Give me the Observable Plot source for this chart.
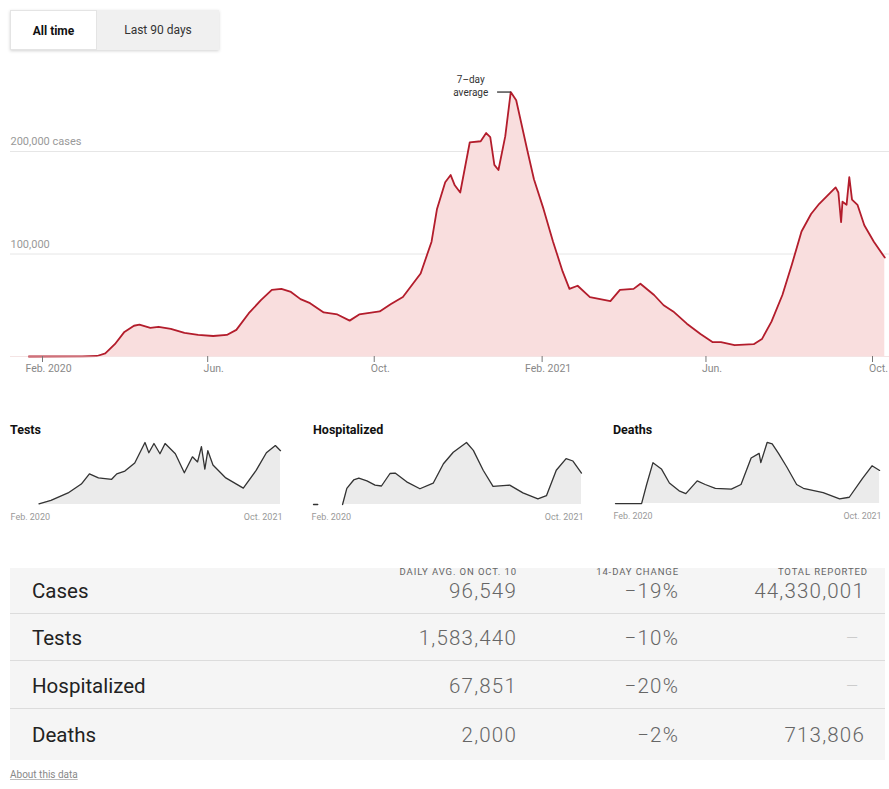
<!DOCTYPE html>
<html><head><meta charset="utf-8">
<script src="https://cdn.jsdelivr.net/npm/d3@7"></script>
<script src="https://cdn.jsdelivr.net/npm/@observablehq/plot@0.6"></script>
<style>
body{margin:0;width:889px;height:789px;position:relative;font-family:Roboto,"Noto Sans",sans-serif;background:#fff;overflow:hidden;color:#222}
.abs{position:absolute}
#buttons{left:10px;top:10px;height:40px;display:flex;box-shadow:0 1px 3px rgba(0,0,0,.18)}
#buttons div{height:40px;line-height:40px;text-align:center;font-size:12px}
#b1{width:87px;background:#fff;border:1px solid #e4e4e4;box-sizing:border-box;font-weight:700;color:#111}
#b2{width:122px;background:#f0f0f0;color:#333}
.ptitle{font-size:12.5px;font-weight:700;color:#111;top:422px}
#tablebg{left:10px;top:568px;width:875px;height:192px;background:#f5f5f5}
.hdr{font-size:9.5px;line-height:11px;letter-spacing:0.9px;color:#666;top:566px;text-transform:uppercase;white-space:nowrap}
.lbl{font-size:20.5px;line-height:22px;color:#222;white-space:nowrap}
.num{font-size:20.5px;line-height:22px;font-weight:300;color:#666;letter-spacing:1.2px;white-space:nowrap;text-align:right}
.div{left:10px;width:875px;height:1px;background:#dcdcdc}
#about{left:10px;top:769px;font-size:10px;color:#888;text-decoration:underline;text-decoration-color:#bbb}
</style></head><body>
<div id="buttons" class="abs"><div id="b1">All time</div><div id="b2">Last 90 days</div></div>
<div id="main" class="abs" style="left:0;top:60px"></div>
<div id="tablebg" class="abs"></div>
<div id="panels"></div>
<div id="table"></div>
<div id="about" class="abs">About this data</div>
<script>
// ---------- data ----------
const caseDates = ["2020-01-22","2020-03-01","2020-03-12","2020-03-18","2020-03-25","2020-04-01","2020-04-08","2020-04-12","2020-04-20","2020-04-26","2020-05-05","2020-05-15","2020-05-25","2020-06-05","2020-06-15","2020-06-22","2020-07-01","2020-07-10","2020-07-18","2020-07-25","2020-08-01","2020-08-08","2020-08-15","2020-08-25","2020-09-04","2020-09-13","2020-09-20","2020-10-05","2020-10-13","2020-10-22","2020-11-04","2020-11-12","2020-11-16","2020-11-22","2020-11-26","2020-11-29","2020-12-03","2020-12-10","2020-12-18","2020-12-22","2020-12-25","2020-12-28","2020-12-31","2021-01-05","2021-01-09","2021-01-13","2021-01-21","2021-01-26","2021-02-02","2021-02-09","2021-02-16","2021-02-21","2021-02-27","2021-03-08","2021-03-23","2021-03-30","2021-04-09","2021-04-14","2021-04-24","2021-05-01","2021-05-08","2021-05-18","2021-05-28","2021-06-06","2021-06-12","2021-06-22","2021-07-06","2021-07-12","2021-07-19","2021-07-27","2021-08-03","2021-08-10","2021-08-17","2021-08-23","2021-08-29","2021-09-04","2021-09-06","2021-09-08","2021-09-09","2021-09-12","2021-09-14","2021-09-16","2021-09-20","2021-09-25","2021-10-02","2021-10-10"];
const caseValues = [0,0.03,0.5,3,12,24,30,31,28,29,27,23,21,20,21,26,42,55,65,66,63,56,52,43,41,35,41,44,51,58,81,112,144,170,177,167,160,209,210,218,214,187,182,215,258,250,202,173,144,112,83,66,69,58,54,65,66,71,60,50,44,32,22,14,14,11,12,17,34,60,90,122,139,149,157,165,160,131,151,148,175,153,148,128,112,96.5]; // thousands

const axisTickDates = ["2020-02-01","2020-06-01","2020-10-01","2021-02-01","2021-06-01","2021-10-01"];
const axisTickLabels = ["Feb. 2020","Jun.","Oct.","Feb. 2021","Jun.","Oct."];
const gridValues = [100000, 200000];
const gridLabels = ["100,000", "200,000 cases"];
const annotationText = "7–day\naverage";

const testDates = ["2020-03-24","2020-04-21","2020-05-31","2020-07-01","2020-07-20","2020-08-10","2020-09-10","2020-09-22","2020-10-11","2020-11-03","2020-11-27","2020-12-06","2020-12-18","2021-01-01","2021-01-13","2021-02-06","2021-02-27","2021-03-18","2021-03-30","2021-04-08","2021-04-16","2021-04-23","2021-05-05","2021-06-04","2021-07-15","2021-08-14","2021-09-07","2021-09-28","2021-10-10"];
const testValues = [0.02,0.12,0.34,0.6,0.9,0.78,0.74,0.9,0.98,1.22,1.82,1.52,1.79,1.49,1.79,1.49,0.93,1.4,1.25,1.7,1.04,1.58,1.16,0.78,0.48,1.0,1.52,1.73,1.58]; // millions

const hospDates = ["2020-01-22","2020-02-01","2020-02-02","2020-03-30","2020-04-09","2020-04-25","2020-05-07","2020-05-26","2020-06-14","2020-06-29","2020-07-19","2020-07-31","2020-08-27","2020-09-27","2020-10-28","2020-11-21","2020-12-14","2021-01-14","2021-01-30","2021-02-22","2021-03-17","2021-04-25","2021-05-26","2021-06-30","2021-07-20","2021-08-12","2021-09-04","2021-09-20","2021-10-10"];
const hospValues = [0,0,null,0,35,53,57,51,42,40,67,68,49,34,46,88,113,134,117,74,39,42,25,12,19,74,99,94,67.9]; // thousands

const deathDates = ["2020-01-22","2020-03-24","2020-04-05","2020-04-20","2020-05-10","2020-05-29","2020-06-21","2020-07-07","2020-08-03","2020-08-22","2020-09-15","2020-10-23","2020-11-15","2020-12-09","2020-12-28","2021-01-01","2021-01-16","2021-01-28","2021-02-12","2021-03-04","2021-03-27","2021-04-12","2021-05-29","2021-07-07","2021-07-30","2021-08-30","2021-09-22","2021-10-10"];
const deathValues = [0,0,1.15,2.47,2.09,1.24,0.77,0.6,1.37,1.15,0.92,0.87,1.15,2.75,3.03,2.47,3.69,3.6,3.03,2.19,1.15,0.92,0.66,0.28,0.38,1.5,2.28,2.0]; // thousands

const panelTitles = ["Tests","Hospitalized","Deaths"];
const panelTickLabels = ["Feb. 2020","Oct. 2021"];
const panelDomain = ["2020-01-22","2021-10-10"];

const tableHeaders = ["Daily avg. on Oct. 10","14-day change","Total reported"];
const rowNames = ["Cases","Tests","Hospitalized","Deaths"];
const dailyAvg = ["96,549","1,583,440","67,851","2,000"];
const change14 = ["−19%","−10%","−20%","−2%"];
const totals = ["44,330,001","–","–","713,806"];

// ---------- main chart ----------
const parse = d3.utcParse("%Y-%m-%d");
const FONT = "Roboto, 'Noto Sans', sans-serif";
const caseData = caseDates.map((d,i)=>({date: parse(d), value: caseValues[i]*1000}));
const peak = caseData.reduce((a,b)=> b.value > a.value ? b : a);
const tickDates = axisTickDates.map(parse);

const main = Plot.plot({
  width: 889, height: 320, marginLeft: 10, marginRight: 0, marginTop: 0, marginBottom: 24,
  style: {fontFamily: FONT, overflow: "visible", background: "transparent"},
  x: {type: "utc", domain: [tickDates[0], tickDates[tickDates.length-1]], range: [42, 872], label: null},
  y: {domain: [0, 200000], range: [296, 91], axis: null},
  marks: [
    Plot.ruleY(gridValues, {stroke: "#e6e6e6", strokeWidth: 1}),
    Plot.text(gridValues, {y: d => d, text: (d,i) => gridLabels[i], frameAnchor: "left", textAnchor: "start", dy: -10, fill: "#999", fontSize: 11}),
    Plot.areaY(caseData, {x: "date", y: "value", fill: "#f9dede"}),
    Plot.lineY(caseData, {x: "date", y: "value", stroke: "#b31d2c", strokeWidth: 1.8}),
    Plot.ruleY([0], {stroke: "#e8c8c8", strokeWidth: 0.5}),
    Plot.axisX(tickDates, {tickSize: 6, stroke: "#777", fill: "none", label: null}),
    Plot.axisX(tickDates, {tickSize: 0, tickPadding: 8, tickFormat: (d,i) => axisTickLabels[i], fill: "#888", fontSize: 10.5, dx: 6, label: null}),
    Plot.link([peak], {x1: d => d3.utcDay.offset(d.date, -10), x2: "date", y1: "value", y2: "value", stroke: "#333", strokeWidth: 1.3}),
    Plot.text([peak], {x: "date", y: "value", text: () => annotationText, dx: -40, dy: 4, lineAnchor: "bottom", lineHeight: 1.3, textAnchor: "middle", fontSize: 10, fill: "#333"})
  ]
});
document.getElementById("main").appendChild(main);

// ---------- small multiples ----------
const panelSeries = [
  testDates.map((d,i)=>({date: parse(d), value: testValues[i]})),
  hospDates.map((d,i)=>({date: parse(d), value: hospValues[i]})),
  deathDates.map((d,i)=>({date: parse(d), value: deathValues[i]}))
];
const panelLefts = [10, 311, 613];
const pDomain = panelDomain.map(parse);
panelSeries.forEach((data, k) => {
  const t = document.createElement("div");
  t.className = "abs ptitle";
  t.style.left = (panelLefts[k] + (k===1?2:0)) + "px";
  t.textContent = panelTitles[k];
  document.body.appendChild(t);
  const maxV = d3.max(data, d => d.value);
  const labels = [{date: pDomain[0], label: panelTickLabels[0], anchor: "start"}, {date: pDomain[1], label: panelTickLabels[1], anchor: "end"}];
  const p = Plot.plot({
    width: 280, height: 88, marginLeft: 0, marginRight: 10, marginTop: 4, marginBottom: 22,
    style: {fontFamily: FONT, overflow: "visible", background: "transparent"},
    x: {type: "utc", domain: pDomain, range: [2, 270], axis: null},
    y: {domain: [0, maxV], range: [66, 4], axis: null},
    marks: [
      Plot.areaY(data, {x: "date", y: "value", fill: "#ebebeb"}),
      Plot.lineY(data, {x: "date", y: "value", stroke: "#333", strokeWidth: 1.3}),
      Plot.text(labels.filter(d => d.anchor === "start"), {x: "date", y: () => 0, text: "label", textAnchor: "start", dx: -2, dy: 13, fontSize: 9, fill: "#999"}),
      Plot.text(labels.filter(d => d.anchor === "end"), {x: "date", y: () => 0, text: "label", textAnchor: "end", dx: 2, dy: 13, fontSize: 9, fill: "#999"})
    ]
  });
  const w = document.createElement("div");
  w.className = "abs";
  w.style.left = panelLefts[k] + "px";
  w.style.top = "438px";
  w.appendChild(p);
  document.body.appendChild(w);
});

// ---------- table ----------
const colRights = [517, 679, 865];
const hdrRights = [517, 679, 868];
function addText(cls, text, top, right, left) {
  const e = document.createElement("div");
  e.className = "abs " + cls;
  e.textContent = text;
  e.style.top = top + "px";
  if (right != null) e.style.right = (889 - right) + "px";
  if (left != null) e.style.left = left + "px";
  document.body.appendChild(e);
  return e;
}
tableHeaders.forEach((h,i) => addText("hdr", h, 566, hdrRights[i]));
const rowCenters = [591, 638, 686, 735];
rowNames.forEach((name, r) => {
  const top = rowCenters[r] - 11;
  addText("lbl", name, top, null, 32);
  addText("num", dailyAvg[r], top, colRights[0]);
  addText("num", change14[r], top, colRights[1]);
  const e = addText("num", totals[r], top, colRights[2]);
  if (totals[r] === "–") { e.style.color = "#ccc"; e.style.right = (889 - 860) + "px"; }
  if (r < rowNames.length - 1) {
    const d = document.createElement("div");
    d.className = "abs div";
    d.style.top = (rowCenters[r] + 22) + "px";
    document.body.appendChild(d);
  }
});
</script>
</body></html>
